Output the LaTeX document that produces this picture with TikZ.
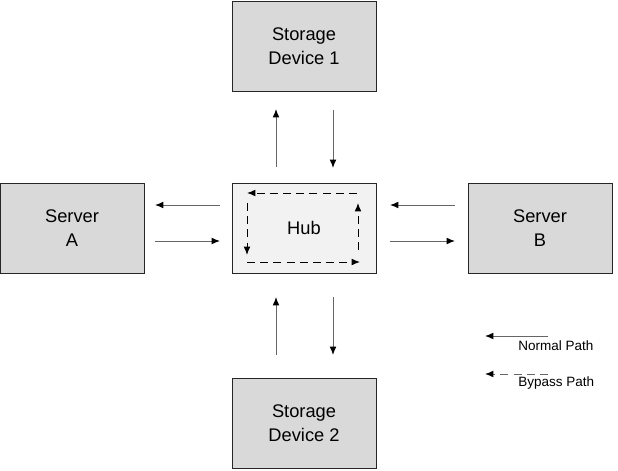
\documentclass[tikz,border=0pt]{standalone}
\usepackage{fontspec}
\setmainfont{Liberation Sans}
\usepackage{tikz}
\usetikzlibrary{shapes,arrows,arrows.meta}

\begin{document}
\begin{tikzpicture}[
	devbox/.style={font=\fontsize{13}{17}\selectfont, draw=black!85, fill=black!15, minimum width=3.6cm, minimum height=2.25cm, inner sep=0, align=center},
	hubbox/.style={devbox, fill=black!5},
	arr/.style={draw=black!60, line width=0.7pt, -{Latex[length=2.1mm,width=1.7mm,black]}},
	bypass/.style={arr, draw=black, dash pattern=on 2mm off 1.3mm},
	lgd/.style={font=\fontsize{9.6}{11}\selectfont, anchor=west, inner sep=0}
]
\useasboundingbox (0,0) rectangle (15.45,-11.75);
%boxes
\node[devbox] (sd1) at (7.6,-1.15) {Storage\\Device 1};
\node[devbox] (srvA) at (1.8,-5.7) {Server\\A};
\node[hubbox] (hub) at (7.6,-5.7) {Hub};
\node[devbox] (srvB) at (13.5,-5.7) {Server\\B};
\node[devbox] (sd2) at (7.6,-10.59) {Storage\\Device 2};

\coordinate (u1) at (6.9,-4.175);
\coordinate (u2) at (6.9,-2.725);
\coordinate (d1) at (8.325,-2.75);
\coordinate (d2) at (8.325,-4.2);
\coordinate (l1) at (5.5,-5.125);
\coordinate (l2) at (3.875,-5.125);
\coordinate (l3) at (3.875,-6.025);
\coordinate (l4) at (5.5,-6.025);
\coordinate (r1) at (11.375,-5.125);
\coordinate (r2) at (9.75,-5.125);
\coordinate (r3) at (9.75,-6.025);
\coordinate (r4) at (11.375,-6.025);
\coordinate (b1) at (6.9,-8.875);
\coordinate (b2) at (6.9,-7.425);
\coordinate (b3) at (8.325,-7.425);
\coordinate (b4) at (8.325,-8.875);
\draw[arr] (u1) -- (u2);
\draw[arr] (d1) -- (d2);
\draw[arr] (l1) -- (l2);
\draw[arr] (l3) -- (l4);
\draw[arr] (r1) -- (r2);
\draw[arr] (r3) -- (r4);
\draw[arr] (b1) -- (b2);
\draw[arr] (b3) -- (b4);

%bypass loop inside the hub
\coordinate (h1) at (8.925,-4.825);
\coordinate (h2) at (6.175,-4.825);
\coordinate (h3) at (6.175,-5.075);
\coordinate (h4) at (6.175,-6.375);
\coordinate (h5) at (6.175,-6.55);
\coordinate (h6) at (9.0,-6.55);
\coordinate (h7) at (8.95,-6.25);
\coordinate (h8) at (8.95,-5.075);
\draw[bypass] (h1) -- (h2);
\draw[bypass] (h3) -- (h4);
\draw[bypass] (h5) -- (h6);
\draw[bypass] (h7) -- (h8);

%legend
\coordinate (n1) at (13.7,-8.4);
\coordinate (n2) at (12.125,-8.4);
\coordinate (p1) at (13.7,-9.35);
\coordinate (p2) at (12.125,-9.35);
\draw[arr] (n1) -- (n2);
\draw[bypass, draw=black!60] (p1) -- (p2);
\node[lgd] (normal) at (12.95,-8.65) {Normal Path};
\node[lgd] (bypasstxt) at (12.95,-9.575) {Bypass Path};
\end{tikzpicture}
\end{document}
